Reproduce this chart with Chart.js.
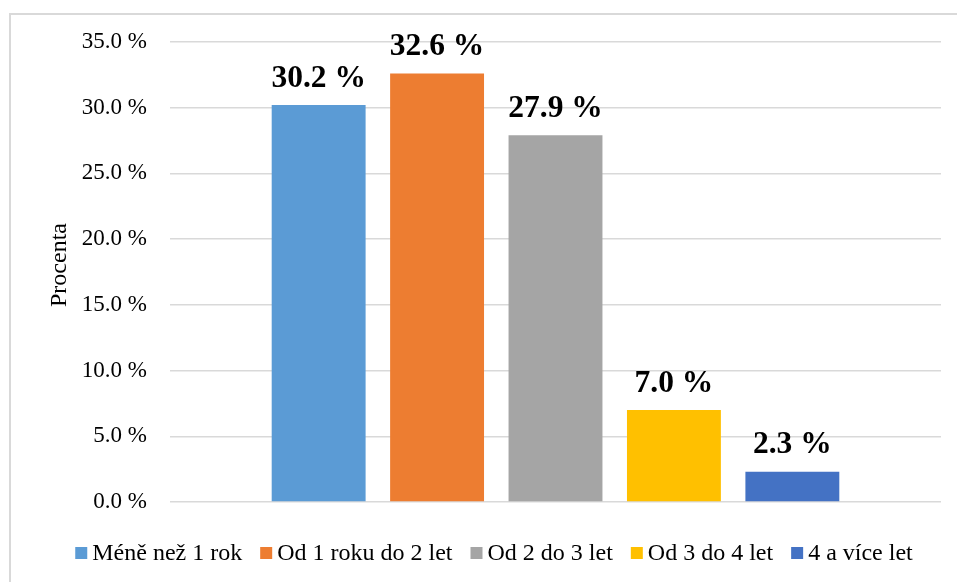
<!DOCTYPE html>
<html>
<head>
<meta charset="utf-8">
<script src="https://cdn.jsdelivr.net/npm/chart.js@4"></script>
<style>
  html, body { margin: 0; padding: 0; background: #fff; }
  #c { display: block; }
</style>
</head>
<body>
<canvas id="c" width="957" height="582"></canvas>
<script>
const categories = [''];
const seriesLabels = ['Méně než 1 rok', 'Od 1 roku do 2 let', 'Od 2 do 3 let', 'Od 3 do 4 let', '4 a více let'];
const seriesValues = [30.2, 32.6, 27.9, 7.0, 2.3];
const seriesColors = ['#5B9BD5', '#ED7D31', '#A5A5A5', '#FFC000', '#4472C4'];
const yTicks = [0, 5, 10, 15, 20, 25, 30, 35];
const axisTitle = 'Procenta';

const FONT = "'Liberation Serif', 'Times New Roman', serif";

const datasets = seriesLabels.map((label, i) => ({
  label: label,
  data: [seriesValues[i]],
  backgroundColor: seriesColors[i],
  borderWidth: 0,
  categoryPercentage: 0.768,
  barPercentage: 0.793
}));

const frame = {
  id: 'frame',
  beforeDraw(chart) {
    const ctx = chart.ctx;
    ctx.save();
    ctx.fillStyle = '#fff';
    ctx.fillRect(0, 0, chart.width, chart.height);
    ctx.strokeStyle = '#d9d9d9';
    ctx.lineWidth = 2;
    ctx.strokeRect(10, 14, chart.width + 20, chart.height + 20);
    ctx.restore();
  },
  afterDraw(chart) {
    const ctx = chart.ctx;
    ctx.save();
    ctx.translate(60, 265);
    ctx.rotate(-Math.PI / 2);
    ctx.font = '24px ' + FONT;
    ctx.fillStyle = '#000';
    ctx.textAlign = 'center';
    ctx.textBaseline = 'middle';
    ctx.fillText(axisTitle, 0, 0);
    ctx.restore();
  }
};

const valueLabels = {
  id: 'valueLabels',
  afterDatasetsDraw(chart) {
    const ctx = chart.ctx;
    ctx.save();
    ctx.font = 'bold 31.5px ' + FONT;
    ctx.fillStyle = '#000';
    ctx.textAlign = 'center';
    ctx.textBaseline = 'alphabetic';
    chart.data.datasets.forEach((ds, i) => {
      const meta = chart.getDatasetMeta(i);
      meta.data.forEach((bar, j) => {
        const v = ds.data[j];
        ctx.fillText(v.toFixed(1) + ' %', bar.x, bar.y - 18.5);
      });
    });
    ctx.restore();
  }
};

const customLegend = {
  id: 'customLegend',
  afterDraw(chart) {
    const ctx = chart.ctx;
    ctx.save();
    ctx.font = '24px ' + FONT;
    const box = 12, gapText = 5, gapItem = 18;
    const items = chart.data.datasets.map(ds => ({
      text: ds.label, color: ds.backgroundColor, w: ctx.measureText(ds.label).width
    }));
    let total = 0;
    items.forEach((it, i) => { total += box + gapText + it.w + (i < items.length - 1 ? gapItem : 0); });
    let x = 494 - total / 2;
    const cy = 553;
    ctx.textBaseline = 'alphabetic';
    ctx.textAlign = 'left';
    items.forEach(it => {
      ctx.fillStyle = it.color;
      ctx.fillRect(x, cy - box / 2, box, box);
      ctx.fillStyle = '#000';
      ctx.fillText(it.text, x + box + gapText, 560);
      x += box + gapText + it.w + gapItem;
    });
    ctx.restore();
  }
};

function build() {
  new Chart(document.getElementById('c'), {
    type: 'bar',
    data: { labels: categories, datasets: datasets },
    plugins: [frame, valueLabels, customLegend],
    options: {
      responsive: false,
      animation: false,
      devicePixelRatio: 1,
      layout: { padding: { top: 42, right: 16, bottom: 80, left: 0 } },
      plugins: {
        legend: { display: false },
        tooltip: { enabled: false },
        title: { display: false }
      },
      scales: {
        x: {
          display: false,
          grid: { display: false }
        },
        y: {
          min: 0,
          max: 35,
          afterBuildTicks(scale) { scale.ticks = yTicks.map(v => ({ value: v })); },
          afterFit(scale) { scale.width = 170; },
          border: { display: false },
          grid: { color: '#d9d9d9', lineWidth: 1.5, drawTicks: false },
          ticks: {
            padding: 23,
            color: '#000',
            font: { family: FONT, size: 23 },
            callback: v => v.toFixed(1) + ' %'
          },
          title: { display: false }
        }
      }
    }
  });
}

if (document.fonts && document.fonts.load) {
  Promise.all([
    document.fonts.load("24px 'Liberation Serif'"),
    document.fonts.load("bold 31px 'Liberation Serif'")
  ]).then(build, build);
} else {
  build();
}
</script>
</body>
</html>
